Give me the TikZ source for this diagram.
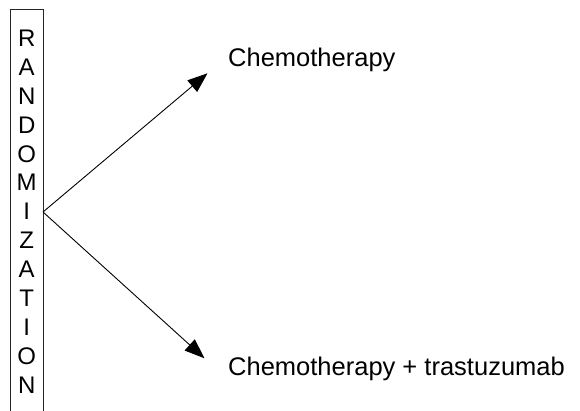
\documentclass[tikz,border=0pt]{standalone}
\usepackage{fontspec}
\setmainfont{Liberation Sans}
\usetikzlibrary{arrows.meta}
\tikzset{
  conn/.style={line width=0.9pt,-{Triangle[length=20pt,width=15pt]}},
  letter/.style={anchor=base,inner sep=0pt,font=\fontsize{24}{28}\selectfont},
  label/.style={anchor=base west,inner sep=0pt,font=\fontsize{25.5}{30}\selectfont},
  boxline/.style={line width=0.9pt,draw=black!85}
}
\begin{document}
\begin{tikzpicture}[x=1pt,y=-1pt]
\useasboundingbox (0,0) rectangle (580,411);
\draw[boxline] (10.5,412) -- (10.5,9) -- (43,9) -- (43,412);
\foreach \l [count=\i from 0] in {R,A,N,D,O,M,I,Z,A,T,I,O,N}{
  \node[letter] (L\i) at (26.7,46.5+28.9*\i) {\l};
}
\coordinate (o) at (43,212);
\coordinate (t1) at (207.5,73.3);
\coordinate (t2) at (204.5,358.3);
\node[label] (c1) at (228,66.7) {Chemotherapy};
\node[label] (c2) at (228,375.8) {Chemotherapy + trastuzumab};
\draw[conn] (o) -- (t1);
\draw[conn] (o) -- (t2);
\end{tikzpicture}
\end{document}
